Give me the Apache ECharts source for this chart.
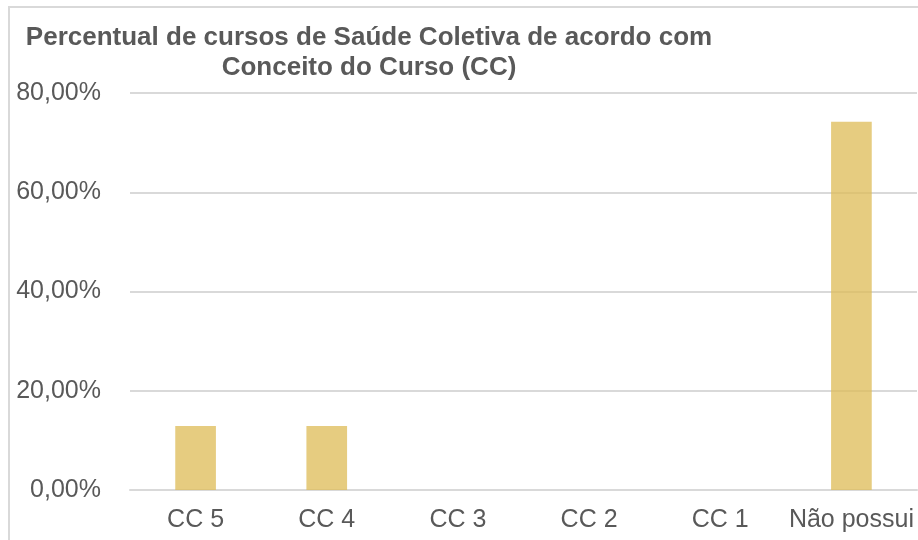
<!DOCTYPE html>
<html>
<head>
<meta charset="utf-8">
<script src="https://cdn.jsdelivr.net/npm/echarts@6/dist/echarts.min.js"></script>
<style>
  html, body { margin: 0; padding: 0; background: #fff; }
  #chart { width: 918px; height: 540px; }
</style>
</head>
<body>
<div id="chart"></div>
<script>
// categories and values (percent)
var categories = ['CC 5', 'CC 4', 'CC 3', 'CC 2', 'CC 1', 'Não possui'];
var percentages = [12.90, 12.90, 0, 0, 0, 74.19];
var yTicks = [0, 20, 40, 60, 80];
var titleLines = ['Percentual de cursos de Saúde Coletiva de acordo com', 'Conceito do Curso (CC)'];

var chart = echarts.init(document.getElementById('chart'));

function fmt(v) {
  return v.toFixed(2).replace('.', ',') + '%';
}

var font = 'Liberation Sans, Arial, sans-serif';

// one title per line so both lines centre on the same x
var titles = titleLines.map(function(t, i) {
  return {
    text: t,
    left: 369,
    top: 25 + i * 30,
    textAlign: 'center',
    padding: 0,
    textStyle: {
      fontFamily: font,
      fontSize: 26,
      fontWeight: 'bold',
      color: '#595959'
    }
  };
});

var option = {
  backgroundColor: '#fff',
  animation: false,
  title: titles,
  graphic: [{
    type: 'polyline',
    shape: { points: [[9, 540], [9, 7], [918, 7]] },
    style: { stroke: '#d9d9d9', lineWidth: 2, fill: null },
    silent: true
  }],
  grid: { left: 130, right: 1, top: 93, bottom: 50 },
  xAxis: {
    type: 'category',
    data: categories,
    axisTick: { show: false },
    axisLine: { lineStyle: { color: '#d9d9d9', width: 2 } },
    axisLabel: {
      fontFamily: font,
      fontSize: 25,
      color: '#595959',
      margin: 18,
      interval: 0
    }
  },
  yAxis: {
    type: 'value',
    min: yTicks[0],
    max: yTicks[yTicks.length - 1],
    interval: 20,
    axisLine: { show: false },
    axisTick: { show: false },
    splitLine: { lineStyle: { color: '#d9d9d9', width: 2 } },
    axisLabel: {
      fontFamily: font,
      fontSize: 25,
      color: '#595959',
      margin: 29,
      formatter: fmt
    }
  },
  series: [{
    type: 'bar',
    data: percentages,
    barWidth: '31%',
    itemStyle: { color: 'rgba(221,187,85,0.75)' }
  }]
};

chart.setOption(option);
</script>
</body>
</html>
